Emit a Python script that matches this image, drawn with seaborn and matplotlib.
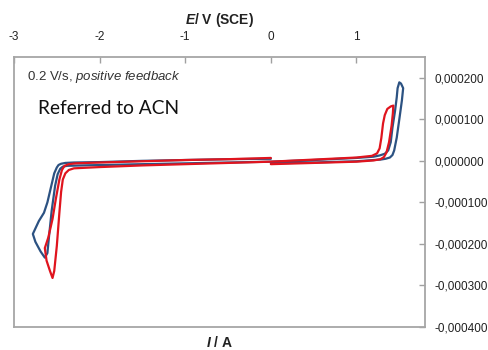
import matplotlib
matplotlib.use("Agg")
import matplotlib.pyplot as plt
import numpy as np
import pandas as pd
import seaborn as sns

sns.set_theme(style="white")
plt.rcParams["font.family"] = ["Liberation Sans", "DejaVu Sans"]
plt.rcParams["mathtext.fontset"] = "custom"
plt.rcParams["mathtext.rm"] = "Liberation Sans"
plt.rcParams["mathtext.it"] = "Liberation Sans:italic"
plt.rcParams["mathtext.bf"] = "Liberation Sans:bold"
plt.rcParams["mathtext.bfit"] = "Liberation Sans:bold:italic"

# Cyclic voltammograms: potential E (V vs SCE) and current I (units of 1e-4 A)
blue_E = [0.00, -0.50, -1.00, -1.50, -2.00, -2.30, -2.40, -2.45, -2.48, -2.50, -2.53,
          -2.57, -2.61, -2.65, -2.71, -2.78, -2.75, -2.69, -2.64, -2.61, -2.59, -2.56,
          -2.52, -2.49, -2.46, -2.43, -2.38, -2.20, -1.50, -1.00, -0.50, 0.00,
          0.50, 1.00, 1.20, 1.27, 1.33, 1.37, 1.40, 1.42, 1.45, 1.47, 1.48, 1.50,
          1.52, 1.545, 1.53, 1.50, 1.47, 1.44, 1.42, 1.39, 1.34, 1.28, 1.20, 1.00,
          0.50, 0.00]
blue_I = [0.05, 0.04, 0.02, 0.00, -0.03, -0.04, -0.05, -0.07, -0.10, -0.16, -0.30,
          -0.65, -1.00, -1.25, -1.45, -1.76, -1.95, -2.18, -2.33, -2.22, -1.80, -1.20,
          -0.60, -0.32, -0.19, -0.14, -0.12, -0.11, -0.08, -0.06, -0.04, -0.02,
          0.02, 0.07, 0.10, 0.13, 0.17, 0.25, 0.45, 0.80, 1.20, 1.53, 1.75, 1.89,
          1.86, 1.75, 1.45, 1.00, 0.56, 0.25, 0.14, 0.08, 0.05, 0.03, 0.02, -0.01,
          -0.04, -0.06]

red_E = [0.00, -0.50, -1.00, -1.50, -2.00, -2.28, -2.36, -2.41, -2.44, -2.47, -2.51,
         -2.55, -2.60, -2.64, -2.62, -2.58, -2.55, -2.53, -2.50, -2.47, -2.45, -2.43,
         -2.40, -2.36, -2.30, -2.00, -1.50, -1.00, -0.50, 0.00,
         0.50, 1.00, 1.18, 1.24, 1.27, 1.29, 1.31, 1.33, 1.36, 1.40, 1.43, 1.425,
         1.41, 1.38, 1.35, 1.32, 1.28, 1.20, 1.00, 0.50, 0.00]
red_I = [0.07, 0.04, 0.02, -0.01, -0.04, -0.06, -0.08, -0.12, -0.22, -0.45, -0.90,
         -1.40, -1.85, -2.10, -2.40, -2.65, -2.82, -2.65, -2.05, -1.25, -0.75, -0.45,
         -0.30, -0.22, -0.18, -0.15, -0.11, -0.08, -0.05, -0.02,
         0.03, 0.08, 0.12, 0.18, 0.30, 0.55, 0.90, 1.10, 1.25, 1.31, 1.33, 1.15,
         0.85, 0.45, 0.20, 0.09, 0.04, 0.01, -0.02, -0.05, -0.08]

x_ticks = [-3, -2, -1, 0, 1]
y_ticks = [-0.0004, -0.0003, -0.0002, -0.0001, 0.0, 0.0001, 0.0002]

blue_df = pd.DataFrame({"E": blue_E, "I": np.array(blue_I) * 1e-4})
red_df = pd.DataFrame({"E": red_E, "I": np.array(red_I) * 1e-4})

fig = plt.figure(figsize=(4.89, 3.5), dpi=100)
ax = fig.add_axes([14 / 489, 1 - 327 / 350, (425 - 14) / 489, (327 - 57) / 350])

line_kw = dict(sort=False, estimator=None, linewidth=1.6, ax=ax)
sns.lineplot(data=blue_df, x="E", y="I", color="#2C5282", **line_kw)
sns.lineplot(data=red_df, x="E", y="I", color="#E0141E", **line_kw)
for ln in ax.get_lines():
    ln.set_solid_joinstyle("round")

ax.set_xlim(-3, 1.8)
ax.set_ylim(-0.0004, 0.00025)
ax.set_xlabel("")
ax.set_ylabel("")

ax.xaxis.tick_top()
ax.yaxis.tick_right()
ax.set_xticks(x_ticks)
ax.set_xticklabels([str(t) for t in x_ticks])
ax.set_yticks(y_ticks)
ax.set_yticklabels([f"{v:.6f}".replace(".", ",") for v in y_ticks])
for lbl in ax.get_yticklabels():
    lbl.set_horizontalalignment("left")

ax.tick_params(axis="x", direction="in", length=4, width=1, color="#A0A0A0",
               labelsize=8.5, labelcolor="#222222", pad=10, top=True, bottom=False)
ax.tick_params(axis="y", direction="in", length=4, width=1, color="#A0A0A0",
               labelsize=8.5, labelcolor="#222222", pad=7, right=True, left=False)

for side in ["left", "right", "top", "bottom"]:
    ax.spines[side].set_visible(True)
    ax.spines[side].set_color("#A6A6A6")
    ax.spines[side].set_linewidth(1.3)

ax.text(0.5, 1.137, r"$\mathbfit{E}$/ V (SCE)", transform=ax.transAxes,
        ha="center", va="center", fontsize=10, fontweight="bold", color="#222222")
ax.text(0.5, -0.059, r"$\mathbfit{I}$ / A", transform=ax.transAxes,
        ha="center", va="center", fontsize=10, fontweight="bold", color="#222222")

ax.text(0.032, 0.925, r"0.2 V/s, $positive\ feedback$", transform=ax.transAxes,
        ha="left", va="center", fontsize=9.5, color="#333333")
ax.text(0.058, 0.81, "Referred to ACN", transform=ax.transAxes,
        ha="left", va="center", fontsize=13.8, color="#111111",
        family=["Lato", "DejaVu Sans"])

fig.savefig("out.png", dpi=100)
